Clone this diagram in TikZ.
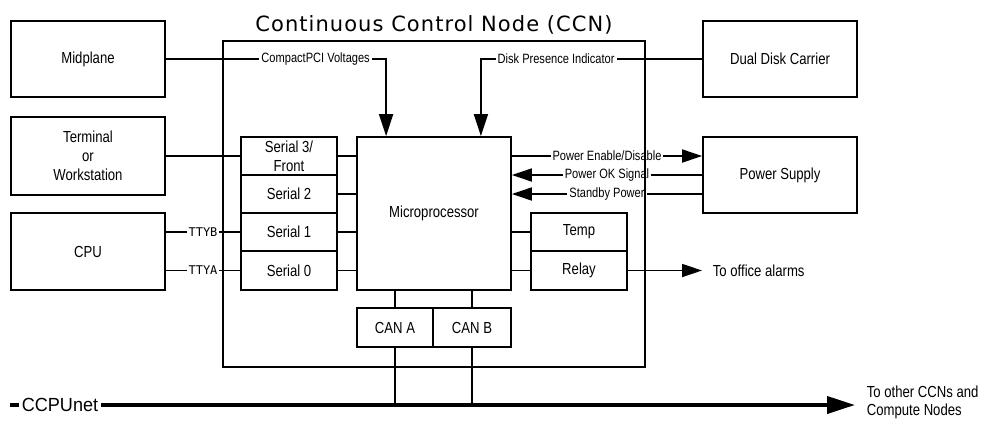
\documentclass[tikz,border=0pt]{standalone}
\usepackage{fontspec}
\setmainfont{Liberation Sans}[FakeStretch=0.82]
\newfontfamily\titlefont{DejaVu Sans}[LetterSpace=5]
\newfontfamily\ttyfont{DejaVu Sans Mono}
\usetikzlibrary{arrows.meta}

\begin{document}
\begin{tikzpicture}[x=1pt,y=-1pt,line width=1.8pt,
    box/.style={draw,line width=1.8pt,inner sep=0pt,align=center,font=\fontsize{16}{19}\selectfont},
    txt/.style={inner sep=0pt,align=left,font=\fontsize{16}{17.5}\selectfont},
    lbl/.style={fill=white,inner sep=2pt,font=\fontsize{13.5}{16}\selectfont},
    ttylbl/.style={fill=white,inner sep=1.5pt,font=\ttyfont\fontsize{12}{14}\selectfont},
    arrdown/.style={-{Triangle[length=22pt,width=14pt]}},
    arrside/.style={-{Triangle[length=20pt,width=13pt]}},
    bus/.style={line width=3.8pt,-{Triangle[length=28pt,width=17pt]}}]
\useasboundingbox (0,0) rectangle (990,424);

% outside units
\node[box,minimum width=154pt,minimum height=76pt] (mid) at (88,59) {Midplane};
\node[box,minimum width=154pt,minimum height=78pt] (term) at (88,156) {Terminal\\or\\Workstation};
\node[box,minimum width=154pt,minimum height=77pt] (cpu) at (88,251.5) {CPU};
\node[box,minimum width=154pt,minimum height=76pt] (ddc) at (780,59) {Dual Disk Carrier};
\node[box,minimum width=154pt,minimum height=76pt] (psu) at (780,175) {Power Supply};

% serial ports
\node[box,minimum width=96pt,minimum height=38pt] (s3) at (289,156) {Serial 3/\\Front};
\node[box,minimum width=96pt,minimum height=38pt] (s2) at (289,194) {Serial 2};
\node[box,minimum width=96pt,minimum height=38pt] (s1) at (289,232) {Serial 1};
\node[box,minimum width=96pt,minimum height=39pt] (s0) at (289,270.5) {Serial 0};

\node[box,minimum width=154pt,minimum height=153pt] (mpu) at (434,213.5) {Microprocessor};

\node[box,minimum width=96pt,minimum height=38pt] (temp) at (579,232) {Temp};
\node[box,minimum width=96pt,minimum height=39pt] (relay) at (579,270.5) {Relay};

\node[box,minimum width=76pt,minimum height=39pt] (cana) at (395,327.5) {CAN A};
\node[box,minimum width=78pt,minimum height=39pt] (canb) at (472,327.5) {CAN B};

\node[txt,anchor=west] (alarms) at (712,270.5) {To office alarms};
\node[txt,anchor=west] (others) at (866,402.5) {To other CCNs and\\Compute Nodes};

% signals into the microprocessor
\draw[arrdown] (mid.east) -| node[lbl,pos=0.34] {CompactPCI Voltages} ([xshift=30pt]mpu.north west);
\draw[arrdown] (ddc.west) -| node[lbl,pos=0.33] {Disk Presence Indicator} ([xshift=-31pt]mpu.north east);

\draw[arrside] (mpu.east |- s3) -- node[lbl] {Power Enable/Disable} (psu.west |- s3);
\draw[arrside] (psu.west) -- node[lbl] {Power OK Signal} (mpu.east |- psu);
\draw[arrside] (psu.west |- s2) -- node[lbl] {Standby Power} (mpu.east |- s2);

% serial lines
\draw (term.east) -- (s3.west);
\draw (cpu.east |- s1) -- node[ttylbl] {TTYB} (s1.west);
\draw (cpu.east |- s0) -- node[ttylbl] {TTYA} (s0.west);
\draw (s3.east) -- (mpu.west |- s3);
\draw (s2.east) -- (mpu.west |- s2);
\draw (s1.east) -- (mpu.west |- s1);
\draw (s0.east) -- (mpu.west |- s0);

\draw (mpu.east |- temp) -- (temp.west);
\draw (mpu.east |- relay) -- (relay.west);
\draw[arrside] (relay.east) -- ([xshift=-10pt]alarms.west);

% CAN and the CCPUnet bus
\coordinate (busend) at (10,405);
\draw (mpu.south -| cana) -- (cana.north);
\draw (mpu.south -| canb) -- (canb.north);
\draw (cana.south) -- (cana.south |- busend);
\draw (canb.south) -- (canb.south |- busend);
\draw[bus] (busend) -- (855,405);
\node[fill=white,inner sep=3pt,font=\fontsize{19}{22}\selectfont\addfontfeature{FakeStretch=0.95}] (net) at (60,405) {CCPUnet};

% CCN outline
\node[draw,line width=1.8pt,inner sep=0pt,minimum width=422pt,minimum height=326pt,
  label={[font=\titlefont\fontsize{21}{24}\selectfont,label distance=2pt]above:Continuous Control Node (CCN)}] (ccn) at (434,204) {};
\end{tikzpicture}
\end{document}
